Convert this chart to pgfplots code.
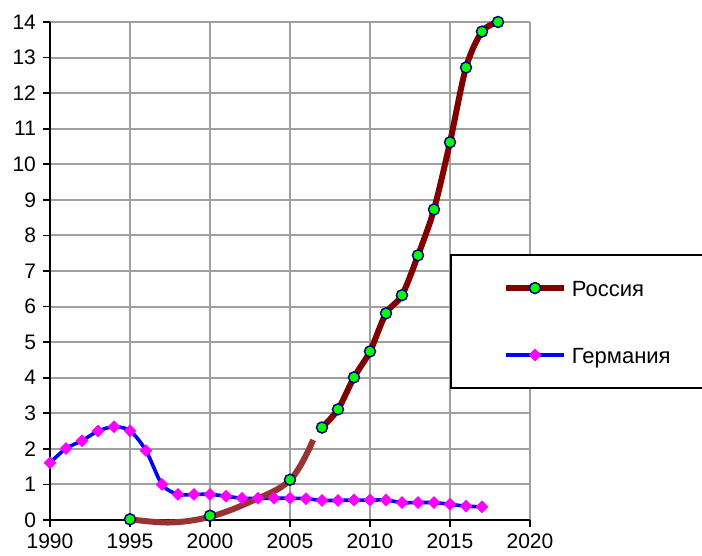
\documentclass[border=0pt]{standalone}
\usepackage{pgfplots}
\pgfplotsset{compat=1.18}
\usepackage{fontspec}
\setmainfont{Liberation Sans}
\definecolor{rusline}{HTML}{800000}
\definecolor{rustrend}{HTML}{993333}
\definecolor{rusfill}{HTML}{00FF00}
\definecolor{rusedge}{HTML}{000080}
\definecolor{gerline}{HTML}{0000FF}
\definecolor{gerfill}{HTML}{FF00FF}
\definecolor{gridgray}{HTML}{A0A0A0}
\begin{document}
\begin{tikzpicture}
\begin{axis}[
  scale only axis,
  width=240pt, height=249pt,
  xmin=1990, xmax=2020, ymin=0, ymax=14,
  xtick={1990,1995,...,2020},
  ytick={0,1,...,14},
  grid=major,
  major grid style={gridgray, line width=1pt},
  axis x line*=bottom, axis y line*=left,
  axis line style={black, line width=1pt, -},
  tick align=outside,
  major tick length=3.5pt,
  tick style={black, line width=0.8pt},
  /pgf/number format/assume math mode=true,
  /pgf/number format/1000 sep={},
  tick label style={font=\fontsize{10.5pt}{12pt}\selectfont},
  clip=false,
  reverse legend,
  legend style={at={(0.8333,0.534)}, anchor=north west, draw=black, line width=1pt,
    inner xsep=26pt, inner ysep=12.5pt, row sep=25.5pt, column sep=2.5pt,
    nodes={inner sep=0pt, text height=8pt, text depth=0pt},
    font=\fontsize{11pt}{13pt}\selectfont},
  legend cell align=left,
  legend image code/.code={\draw[mark repeat=2,mark phase=2,#1] plot coordinates {(0pt,0pt) (14.5pt,0pt) (29pt,0pt)};},
]
% Germany
\addplot[gerline, line width=1.8pt, smooth, tension=0.5,
  mark=square*, mark size=2.1pt, mark options={rotate=45, fill=gerfill, draw=gerfill, line width=0.3pt}]
  coordinates {
  (1990,1.61) (1991,2.01) (1992,2.23) (1993,2.50) (1994,2.62) (1995,2.51)
  (1996,1.95) (1997,1.00) (1998,0.72) (1999,0.72) (2000,0.72) (2001,0.67)
  (2002,0.61) (2003,0.61) (2004,0.61) (2005,0.61) (2006,0.60) (2007,0.55)
  (2008,0.55) (2009,0.56) (2010,0.56) (2011,0.56) (2012,0.49) (2013,0.49)
  (2014,0.49) (2015,0.44) (2016,0.39) (2017,0.37)};
\addlegendentry{Германия}
% Russia early trend curve
\addplot[forget plot, rustrend, line width=3pt, smooth, tension=0.6, no markers]
  coordinates {(1995,0.02) (1997.5,-0.07) (2000,0.09) (2002.5,0.51) (2005,1.12) (2006.45,2.25)};
% Russia early markers
\addplot[forget plot, only marks, mark=*, mark size=2.75pt,
  mark options={fill=rusfill, draw=rusedge, line width=0.75pt}]
  coordinates {(1995,0.02) (2000,0.12) (2005,1.13)};
% Russia main
\addplot[rusline, line width=3pt, smooth, tension=0.5,
  mark=*, mark size=2.75pt, mark options={fill=rusfill, draw=rusedge, line width=0.75pt}]
  coordinates {
  (2007,2.60) (2008,3.11) (2009,4.01) (2010,4.74) (2011,5.81) (2012,6.32)
  (2013,7.44) (2014,8.73) (2015,10.62) (2016,12.72) (2017,13.73) (2018,14.00)};
\addlegendentry{Россия}
\end{axis}
\pgfresetboundingbox
\useasboundingbox (-25pt,-18pt) rectangle (326pt,260pt);
\end{tikzpicture}
\end{document}
